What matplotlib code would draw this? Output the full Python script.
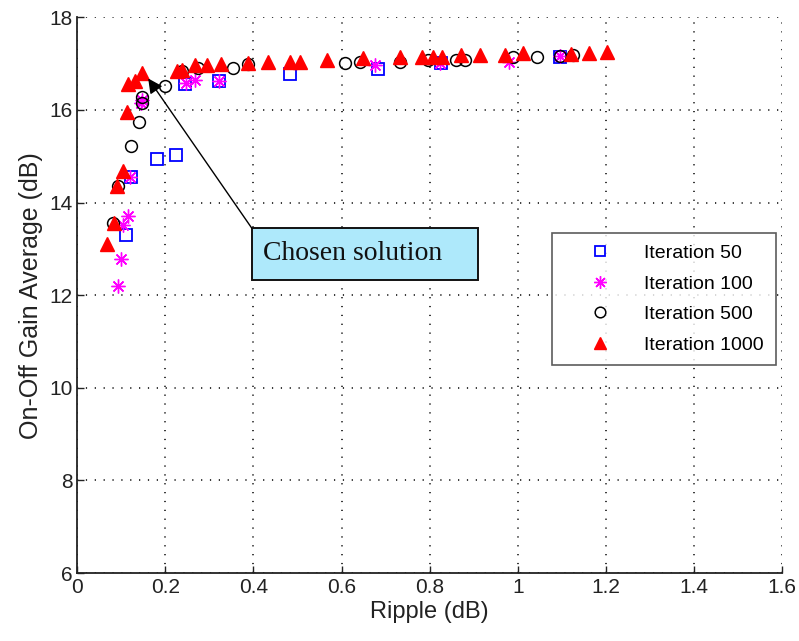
import matplotlib
matplotlib.use("Agg")
import matplotlib.pyplot as plt
from matplotlib.patches import Rectangle

# ---- data ----
it50_x = [0.110, 0.121, 0.180, 0.224, 0.244, 0.322, 0.483, 0.682, 0.826, 1.097]
it50_y = [13.30, 14.56, 14.94, 15.03, 16.55, 16.63, 16.77, 16.88, 17.01, 17.15]

it100_x = [0.092, 0.099, 0.104, 0.116, 0.120, 0.145, 0.146, 0.248, 0.267, 0.322,
           0.675, 0.823, 0.980, 1.097]
it100_y = [12.19, 12.78, 13.51, 13.72, 14.55, 16.14, 16.22, 16.58, 16.65, 16.63,
           16.97, 17.01, 17.04, 17.16]

it500_x = [0.082, 0.093, 0.121, 0.140, 0.146, 0.146, 0.199, 0.238, 0.275, 0.354,
           0.388, 0.608, 0.642, 0.732, 0.797, 0.861, 0.880, 0.990, 1.044, 1.096, 1.126]
it500_y = [13.56, 14.35, 15.23, 15.75, 16.14, 16.29, 16.52, 16.85, 16.90, 16.91,
           17.00, 17.01, 17.04, 17.04, 17.08, 17.08, 17.08, 17.15, 17.15, 17.17, 17.19]

it1000_x = [0.067, 0.083, 0.091, 0.104, 0.112, 0.115, 0.130, 0.146, 0.226, 0.238,
            0.267, 0.294, 0.327, 0.388, 0.434, 0.484, 0.505, 0.566, 0.649, 0.732,
            0.782, 0.808, 0.827, 0.872, 0.914, 0.971, 1.012, 1.120, 1.162, 1.203]
it1000_y = [13.11, 13.56, 14.36, 14.68, 15.96, 16.55, 16.62, 16.79, 16.83, 16.86,
            16.97, 16.97, 17.00, 17.02, 17.04, 17.04, 17.04, 17.08, 17.12, 17.15,
            17.15, 17.15, 17.15, 17.19, 17.19, 17.19, 17.22, 17.21, 17.22, 17.26]

series_labels = ["Iteration 50", "Iteration 100", "Iteration 500", "Iteration 1000"]
x_ticks = [0, 0.2, 0.4, 0.6, 0.8, 1.0, 1.2, 1.4, 1.6]
x_ticklabels = ["0", "0.2", "0.4", "0.6", "0.8", "1", "1.2", "1.4", "1.6"]
y_ticks = [6, 8, 10, 12, 14, 16, 18]

chosen_x, chosen_y = 0.161, 16.68

plt.rcParams['font.family'] = ['Liberation Sans', 'DejaVu Sans']

fig = plt.figure(figsize=(7.99, 6.41), dpi=100)
ax = fig.add_axes([0.0967, 0.106, 0.882, 0.867])

ax.plot(it50_x, it50_y, linestyle='none', marker='s', ms=8.5, mfc='none',
        mec='#0000ff', mew=1.3, label=series_labels[0], zorder=3)
ax.plot(it100_x, it100_y, linestyle='none', marker=(8, 2, 0), ms=10,
        mec='#ff00ff', mew=1.0, color='#ff00ff', label=series_labels[1], zorder=3)
ax.plot(it500_x, it500_y, linestyle='none', marker='o', ms=8.5, mfc='none',
        mec='black', mew=1.1, label=series_labels[2], zorder=3)
ax.plot(it1000_x, it1000_y, linestyle='none', marker='^', ms=10, mfc='#ff0000',
        mec='#ff0000', label=series_labels[3], zorder=3)

ax.set_xlim(0, 1.6)
ax.set_ylim(6, 18)
ax.set_xticks(x_ticks)
ax.set_xticklabels(x_ticklabels)
ax.set_yticks(y_ticks)
ax.tick_params(direction='in', length=5, width=1, labelsize=15, colors='#222222',
               top=False, right=False)
for s in ['top', 'right']:
    ax.spines[s].set_visible(False)
for s in ['left', 'bottom']:
    ax.spines[s].set_linewidth(1.3)
    ax.spines[s].set_color('#222222')

ax.grid(True, color='black', linestyle=(0, (0.8, 5.0)), linewidth=1.1)
ax.set_axisbelow(True)

ax.set_xlabel("Ripple (dB)", fontsize=17, color='#222222', labelpad=3)
ax.set_ylabel("On-Off Gain Average (dB)", fontsize=18, color='#222222', labelpad=4)

# annotation box
bx0, by0 = 0.396, 12.33
bw, bh = 0.514, 1.12
ax.add_patch(Rectangle((bx0, by0), bw, bh, facecolor='#aee9fb', edgecolor='#111111',
                       lw=1.4, zorder=5))
ax.text(bx0 + 0.025, by0 + bh / 2, "Chosen solution", fontsize=20,
        family=['Liberation Serif', 'DejaVu Serif'], ha='left', va='center',
        color='#111111', zorder=6)
ax.annotate("", xy=(chosen_x, chosen_y), xytext=(bx0, by0 + bh),
            arrowprops=dict(arrowstyle='-|>', color='black', lw=1.0,
                            mutation_scale=22, shrinkA=0, shrinkB=0), zorder=6)

leg = ax.legend(loc='upper right', bbox_to_anchor=(0.991, 0.612), borderaxespad=0,
                fontsize=14, frameon=True, fancybox=False, edgecolor='#333333',
                handlelength=3.7, handletextpad=0.45, labelspacing=0.66,
                borderpad=0.6, markerscale=0.9)
leg.get_frame().set_linewidth(1.2)

fig.savefig("out.png", dpi=100)
